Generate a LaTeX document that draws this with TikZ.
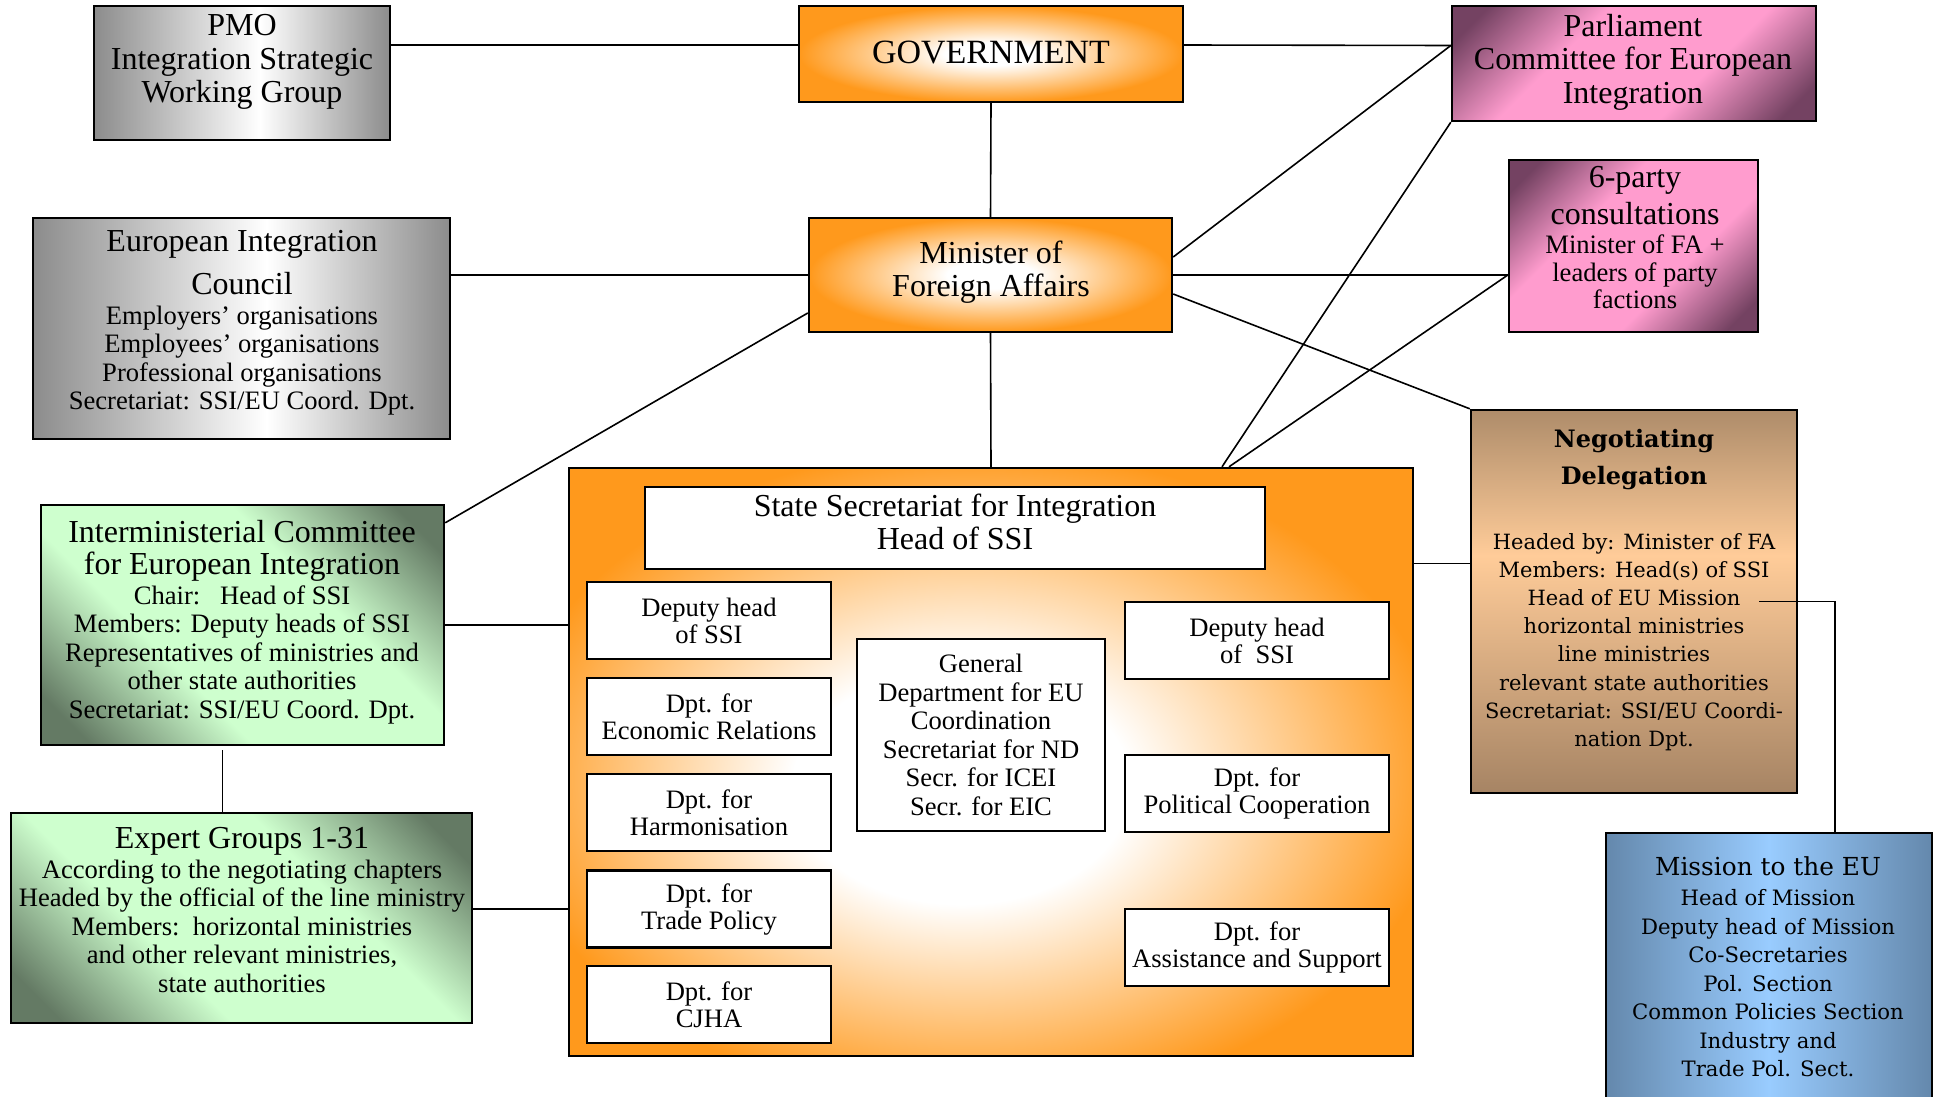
\documentclass[tikz,border=0pt]{standalone}
\usepackage{fontspec}
\setmainfont{Liberation Serif}
\newfontfamily\wideserif{DejaVu Serif}
\usetikzlibrary{calc}

% colours
\definecolor{orng}{RGB}{255,153,28}
\definecolor{greyedge}{RGB}{140,140,140}
\definecolor{pinkc}{RGB}{255,156,206}
\definecolor{pinkdark}{RGB}{116,66,98}
\definecolor{greenc}{RGB}{206,255,206}
\definecolor{greendark}{RGB}{100,122,100}
\definecolor{browntop}{RGB}{174,140,106}
\definecolor{brownbot}{RGB}{166,132,100}
\definecolor{peach}{RGB}{255,204,153}
\definecolor{bluec}{RGB}{153,204,255}
\definecolor{blueedge}{RGB}{100,136,172}

% shadings
\pgfdeclareradialshading{orangeglow}{\pgfpoint{0bp}{0bp}}{color(0bp)=(white); color(6bp)=(white); color(25bp)=(orng); color(50bp)=(orng)}
\pgfdeclareradialshading{ssiglow}{\pgfpoint{-2.2bp}{-2.6bp}}{color(0bp)=(white); color(10bp)=(white); color(28bp)=(orng); color(50bp)=(orng)}
\pgfdeclarehorizontalshading{greyband}{100bp}{color(0bp)=(greyedge); color(25bp)=(greyedge); color(53bp)=(white); color(75bp)=(greyedge); color(100bp)=(greyedge)}
\pgfdeclareverticalshading{pinkdiag}{100bp}{color(0bp)=(pinkdark); color(20bp)=(pinkdark); color(38bp)=(pinkc); color(62bp)=(pinkc); color(80bp)=(pinkdark); color(100bp)=(pinkdark)}
\pgfdeclareverticalshading{greendiag}{100bp}{color(0bp)=(greendark); color(20bp)=(greendark); color(38bp)=(greenc); color(62bp)=(greenc); color(80bp)=(greendark); color(100bp)=(greendark)}
\pgfdeclareverticalshading{brownband}{100bp}{color(0bp)=(brownbot); color(25bp)=(brownbot); color(56bp)=(peach); color(75bp)=(browntop); color(100bp)=(browntop)}
\pgfdeclarehorizontalshading{blueband}{100bp}{color(0bp)=(blueedge); color(25bp)=(blueedge); color(50bp)=(bluec); color(75bp)=(blueedge); color(100bp)=(blueedge)}

\newcommand\ttlf{\fontsize{16}{16.75}\selectfont}
\newcommand\subf{\fontsize{13.3}{14.25}\selectfont}

\tikzset{
  box/.style={draw=black, line width=1.2pt, inner sep=0pt},
  orangebox/.style={box, shading=orangeglow},
  greybox/.style={box, shading=greyband},
  pinkbox/.style={box, shading=pinkdiag, shading angle=45},
  greenbox/.style={box, shading=greendiag, shading angle=-45},
  unit/.style={draw=black, line width=1.1pt, fill=white, align=center, inner sep=0pt,
    font=\fontsize{13.3}{13.5}\selectfont},
  txt/.style={align=center, inner sep=0pt},
  conn/.style={draw=black, line width=0.8pt},
}

\begin{document}
\begin{tikzpicture}[x=0.5pt, y=-0.5pt]
\useasboundingbox (0,0) rectangle (1943,1097);
\fill[white] (0,0) rectangle (1943,1097);
\clip (0,0) rectangle (1943,1097);

% ---- boxes (placed by centre, sizes in pt) ----
\node[greybox, minimum width=148pt, minimum height=67pt] (pmo) at (242,73) {};
\node[orangebox, minimum width=192pt, minimum height=48pt] (gov) at (991,54) {};
\node[pinkbox, minimum width=182pt, minimum height=57.5pt] (parl) at (1634,63.5) {};
\node[greybox, minimum width=208.5pt, minimum height=110.5pt] (eic) at (241.5,328.5) {};
\node[orangebox, minimum width=181.5pt, minimum height=57pt] (mfa) at (990.5,275) {};
\node[pinkbox, minimum width=124.5pt, minimum height=86pt] (six) at (1633.5,246) {};
\node[box, shading=brownband, minimum width=163pt, minimum height=191.5pt] (neg) at (1634,601.5) {};
\node[greenbox, minimum width=201.5pt, minimum height=120pt] (imc) at (242.5,625) {};
\node[greenbox, minimum width=230.5pt, minimum height=105pt] (exp) at (241.5,918) {};
\node[box, shading=ssiglow, minimum width=422pt, minimum height=294pt] (ssi) at (991,762) {};
\node[box, shading=blueband, minimum width=163pt, minimum height=138.5pt] (mission) at (1769,971.5) {};

% ---- connectors ----
\draw[conn] ($(pmo.east)+(0,-28)$) -- ($(gov.west)+(0,-9)$);
\draw[conn] ($(gov.east)+(0,-9)$) -- ($(parl.west)+(0,-18)$);
\draw[conn] (gov.south) -- (mfa.north);
\draw[conn] (mfa.west) -- (mfa.west -| eic.east);
\draw[conn] (mfa.east) -- (mfa.east -| six.west);
\draw[conn] ($(mfa.east)+(0,-18)$) -- ($(parl.west)+(0,-18)$);
\draw[conn] (parl.south west) -- ($(ssi.north)+(231,0)$);
\draw[conn] (mfa.east -| six.west) -- ($(ssi.north)+(238,0)$);
\draw[conn] ($(mfa.east)+(0,19)$) -- (neg.north west);
\draw[conn] (mfa.south) -- (ssi.north);
\draw[conn] ($(mfa.west)+(0,38)$) -- ($(imc.north east)+(0,19)$);
\draw[conn] (imc.east) -- (imc.east -| ssi.west);
\draw[conn] ($(imc.south)+(-20,4)$) -- ($(exp.north)+(-19,0)$);
\draw[conn] ($(exp.east)+(0,-9)$) -- ($(exp.east -| ssi.west)+(0,-9)$);
\draw[conn] ($(neg.west)+(0,-38)$) -- ($(neg.west -| ssi.east)+(0,-38)$);

% ---- units inside the State Secretariat ----
\node[unit, minimum width=310pt, minimum height=41pt] (head) at (955,528) {};
\node[txt, font=\ttlf] (head-t) at (955,522) {State Secretariat for Integration\\Head of SSI};
\node[unit, minimum width=122pt, minimum height=38.5pt] (dl1) at (709,620.5) {Deputy head\\of SSI};
\node[unit, minimum width=122pt, minimum height=38.5pt] (econ) at (709,716.5) {Dpt. for\\Economic Relations};
\node[unit, minimum width=122pt, minimum height=38.5pt] (harm) at (709,812.5) {Dpt. for\\Harmonisation};
\node[unit, minimum width=122pt, minimum height=38.5pt] (trade) at (709,909) {Dpt. for\\Trade Policy};
\node[unit, minimum width=122pt, minimum height=38.5pt] (cjha) at (709,1004.5) {Dpt. for\\CJHA};
\node[unit, font=\subf, minimum width=124pt, minimum height=96pt] (gen) at (981,735)
  {General\\Department for EU\\Coordination\\Secretariat for ND\\Secr. for ICEI\\Secr. for EIC};
\node[unit, minimum width=132pt, minimum height=38.5pt] (dr1) at (1257,640.5) {Deputy head\\of\ \ SSI};
\node[unit, minimum width=132pt, minimum height=38.5pt] (pol) at (1257,793.5) {Dpt. for\\Political Cooperation};
\node[unit, minimum width=132pt, minimum height=38.5pt] (assist) at (1257,947.5) {Dpt. for\\Assistance and Support};

% ---- texts of the outer bodies ----
\node[txt, font=\ttlf] (pmo-t) at (242,62) {PMO\\Integration Strategic\\Working Group};
\node[txt, font=\fontsize{17}{20}\selectfont] (gov-t) at (991,53) {GOVERNMENT};
\node[txt, font=\ttlf] (parl-t) at (1633,62) {Parliament\\Committee for European\\Integration};
\node[txt, font=\ttlf] (mfa-t) at (991,272) {Minister of\\Foreign Affairs};
\node[txt, font=\subf] (six-t) at (1635,238)
  {{\ttlf 6-party}\\[2.5pt]{\ttlf consultations}\\[0.5pt]Minister of FA +\\[-0.4pt]leaders of party\\[-0.4pt]factions};
\node[txt, font=\subf] (eic-t) at (242,323)
  {{\ttlf European Integration}\\[5.5pt]{\ttlf Council}\\[0.75pt]Employers' organisations\\Employees' organisations\\Professional organisations\\Secretariat: SSI/EU Coord. Dpt.};
\node[txt, font=\subf] (imc-t) at (242,622)
  {{\ttlf Interministerial Committee}\\[2pt]{\ttlf for European Integration}\\[0.5pt]Chair:\ \ \ Head of SSI\\Members: Deputy heads of SSI\\Representatives of ministries and\\other state authorities\\Secretariat: SSI/EU Coord. Dpt.};
\node[txt, font=\subf] (exp-t) at (242,910)
  {{\ttlf Expert Groups 1-31}\\[0.75pt]According to the negotiating chapters\\Headed by the official of the line ministry\\Members:\ \ horizontal ministries\\and other relevant ministries,\\state authorities};
\node[txt, font=\wideserif\fontsize{10.5}{14.1}\selectfont] (neg-t) at (1634,590)
  {{\fontsize{12}{14}\selectfont\bfseries Negotiating}\\[4.6pt]{\fontsize{12}{14}\selectfont\bfseries Delegation}\\[18pt]Headed by: Minister of FA\\Members: Head(s) of SSI\\Head of EU Mission\hspace*{10pt}\\horizontal ministries\\line ministries\\relevant state authorities\\Secretariat: SSI/EU Coordi-\\nation Dpt.};
\node[txt, font=\wideserif\fontsize{10.6}{14.25}\selectfont] (mission-t) at (1768,967)
  {{\fontsize{12.4}{14.25}\selectfont Mission to the EU}\\[0.75pt]Head of Mission\\Deputy head of Mission\\Co-Secretaries\\Pol. Section\\Common Policies Section\\Industry and\\Trade Pol. Sect.};

% ---- link from the delegation to the mission ----
\draw[conn] ($(neg.center)+(125,0)$) -| ($(mission.north)+(66,0)$);
\end{tikzpicture}
\end{document}
